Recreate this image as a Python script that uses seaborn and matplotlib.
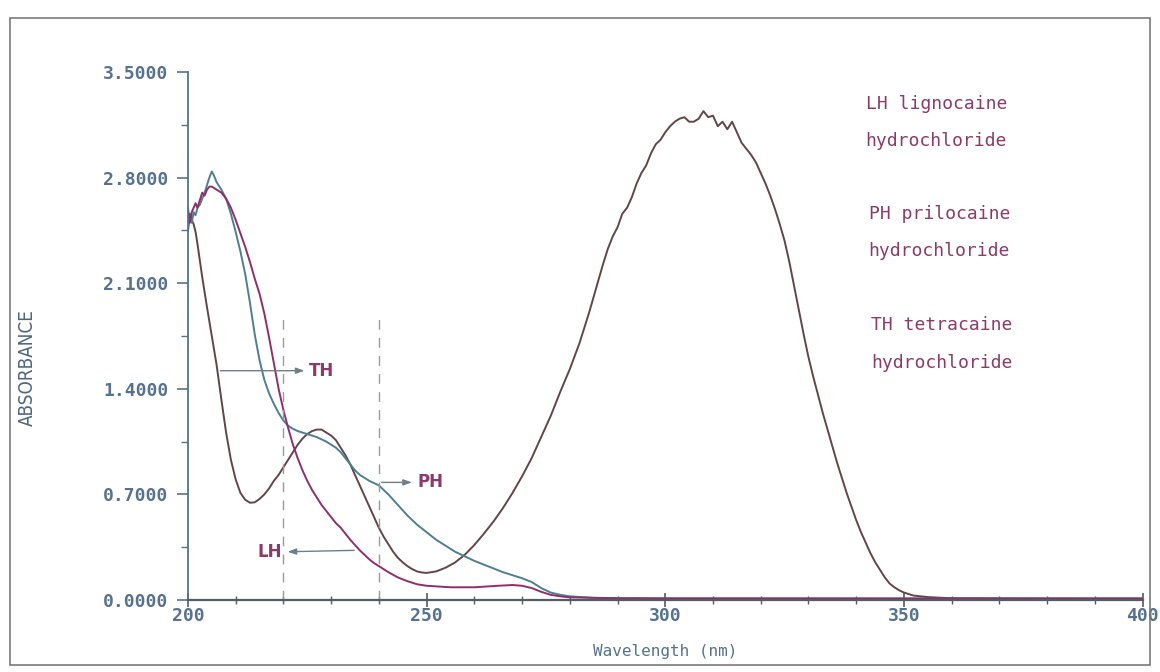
import matplotlib
matplotlib.use("Agg")
import matplotlib.pyplot as plt
from matplotlib.patches import Rectangle
from matplotlib.ticker import MultipleLocator, FixedLocator
import pandas as pd
import seaborn as sns

# TH tetracaine hydrochloride (brown trace)
th_wl = [200, 200.4, 200.8, 201.2, 201.6, 202, 203, 204, 205, 206,
         207, 208, 209, 210, 211, 212, 213, 214, 215, 216,
         217, 218, 219, 220, 221, 222, 223, 224, 225, 226,
         227, 228, 229, 230, 231, 232, 233, 234, 235, 236,
         237, 238, 239, 240, 241, 242, 243, 244, 245, 246,
         247, 248, 249, 250, 252, 254, 256, 258, 260, 262,
         264, 266, 268, 270, 272, 274, 276, 278, 280, 282,
         284, 285, 286, 287, 288, 289, 290, 291, 292, 293,
         294, 295, 296, 297, 298, 299, 300, 301, 302, 303,
         304, 305, 306, 307, 308, 309, 310, 311, 312, 313,
         314, 315, 316, 317, 318, 319, 320, 321, 322, 323,
         324, 325, 326, 327, 328, 329, 330, 331, 332, 333,
         334, 335, 336, 337, 338, 339, 340, 341, 342, 343,
         344, 345, 346, 347, 348, 349, 350, 352, 355, 360,
         380, 400]
th_abs = [2.47, 2.56, 2.52, 2.49, 2.44, 2.36, 2.14, 1.94, 1.75, 1.56,
          1.33, 1.11, 0.93, 0.80, 0.71, 0.665, 0.645, 0.648, 0.67, 0.70,
          0.74, 0.79, 0.83, 0.88, 0.93, 0.98, 1.03, 1.07, 1.10, 1.12,
          1.13, 1.13, 1.11, 1.09, 1.06, 1.01, 0.96, 0.90, 0.83, 0.76,
          0.69, 0.62, 0.55, 0.48, 0.42, 0.37, 0.32, 0.28, 0.25, 0.225,
          0.205, 0.19, 0.183, 0.18, 0.19, 0.215, 0.25, 0.30, 0.365, 0.44,
          0.52, 0.61, 0.71, 0.82, 0.94, 1.08, 1.22, 1.38, 1.53, 1.70,
          1.90, 2.01, 2.12, 2.23, 2.33, 2.41, 2.47, 2.56, 2.60, 2.67,
          2.76, 2.83, 2.88, 2.96, 3.02, 3.05, 3.10, 3.14, 3.17, 3.19,
          3.20, 3.17, 3.17, 3.19, 3.24, 3.20, 3.21, 3.14, 3.17, 3.12,
          3.17, 3.10, 3.03, 2.99, 2.95, 2.90, 2.83, 2.76, 2.68, 2.59,
          2.49, 2.38, 2.24, 2.08, 1.92, 1.76, 1.61, 1.48, 1.36, 1.24,
          1.13, 1.02, 0.91, 0.81, 0.71, 0.62, 0.53, 0.45, 0.38, 0.31,
          0.25, 0.20, 0.15, 0.11, 0.085, 0.065, 0.05, 0.03, 0.02, 0.012,
          0.01, 0.01]

# PH prilocaine hydrochloride (blue trace)
ph_wl = [200, 200.4, 200.8, 201.2, 201.6, 202, 202.5, 203, 203.5, 204,
         204.5, 205, 205.5, 206, 207, 208, 209, 210, 211, 212,
         213, 214, 215, 216, 217, 218, 219, 220, 221, 222,
         223, 224, 225, 226, 227, 228, 229, 230, 231, 232,
         233, 234, 235, 236, 237, 238, 239, 240, 242, 244,
         246, 248, 250, 252, 254, 256, 258, 260, 262, 264,
         266, 268, 270, 272, 274, 276, 278, 280, 285, 300,
         400]
ph_abs = [2.44, 2.55, 2.50, 2.57, 2.55, 2.60, 2.62, 2.66, 2.70, 2.75,
          2.80, 2.84, 2.81, 2.77, 2.72, 2.66, 2.56, 2.44, 2.31, 2.16,
          1.97, 1.76, 1.59, 1.46, 1.37, 1.30, 1.24, 1.19, 1.155, 1.135,
          1.12, 1.11, 1.10, 1.09, 1.08, 1.065, 1.05, 1.03, 1.01, 0.98,
          0.94, 0.90, 0.86, 0.83, 0.81, 0.79, 0.775, 0.76, 0.70, 0.63,
          0.56, 0.50, 0.45, 0.40, 0.36, 0.32, 0.29, 0.26, 0.235, 0.21,
          0.185, 0.165, 0.145, 0.12, 0.08, 0.05, 0.035, 0.025, 0.015, 0.01,
          0.01]

# LH lignocaine hydrochloride (purple trace)
lh_wl = [200, 200.4, 200.8, 201.2, 201.6, 202, 202.5, 203, 203.5, 204,
         204.5, 205, 206, 207, 208, 209, 210, 211, 212, 213,
         214, 215, 216, 217, 218, 219, 220, 221, 222, 223,
         224, 225, 226, 227, 228, 229, 230, 231, 232, 233,
         234, 235, 236, 237, 238, 239, 240, 242, 244, 246,
         248, 250, 255, 260, 265, 268, 270, 272, 274, 276,
         278, 280, 290, 400]
lh_abs = [2.60, 2.50, 2.57, 2.60, 2.63, 2.60, 2.65, 2.70, 2.68, 2.72,
          2.74, 2.74, 2.72, 2.70, 2.66, 2.60, 2.52, 2.43, 2.34, 2.24,
          2.13, 2.03, 1.90, 1.74, 1.57, 1.40, 1.26, 1.14, 1.03, 0.94,
          0.86, 0.79, 0.73, 0.68, 0.63, 0.59, 0.55, 0.51, 0.48, 0.44,
          0.40, 0.365, 0.33, 0.30, 0.27, 0.245, 0.225, 0.185, 0.15, 0.125,
          0.105, 0.095, 0.085, 0.085, 0.095, 0.10, 0.095, 0.08, 0.055, 0.035,
          0.025, 0.018, 0.012, 0.01]

drugs = ["TH", "PH", "LH"]
colors = {"TH": "#634549", "PH": "#4e7f90", "LH": "#8e2f6c"}
legend_lines = ["LH lignocaine", "hydrochloride",
                "PH prilocaine", "hydrochloride",
                "TH tetracaine", "hydrochloride"]
y_ticks = [0.0, 0.7, 1.4, 2.1, 2.8, 3.5]
x_ticks = [200, 250, 300, 350, 400]
marker_wl = [220, 240]

TEXT_C = "#8c3a68"
TICK_C = "#56728f"
MONO = ["DejaVu Sans Mono"]

df = pd.concat([
    pd.DataFrame({"wl": th_wl, "abs": th_abs, "drug": "TH"}),
    pd.DataFrame({"wl": ph_wl, "abs": ph_abs, "drug": "PH"}),
    pd.DataFrame({"wl": lh_wl, "abs": lh_abs, "drug": "LH"}),
], ignore_index=True)

sns.set_style("ticks")
plt.rcParams["font.family"] = MONO

fig = plt.figure(figsize=(11.6, 6.72), dpi=100)
ax = fig.add_axes([0.162, 0.107, 0.823, 0.786])

sns.lineplot(data=df, x="wl", y="abs", hue="drug", hue_order=drugs, palette=colors,
             estimator=None, sort=False, legend=False, linewidth=1.4, ax=ax)

# dashed markers
for w in marker_wl:
    ax.plot([w, w], [0, 1.88], color="#9a9a9a", lw=1.0, ls=(0, (7, 6)))

# arrows to trace labels
arrow_kw = dict(arrowstyle="-|>,head_length=0.5,head_width=0.18", color="#6f7f88", lw=1.0)
ax.annotate("", xy=(225.0, 1.52), xytext=(206.2, 1.52), arrowprops=arrow_kw)
ax.text(225.3, 1.52, "TH", color=TEXT_C, fontsize=12, fontweight="bold",
        family=["DejaVu Sans"], va="center", ha="left")
ax.annotate("", xy=(247.5, 0.78), xytext=(240.0, 0.78), arrowprops=arrow_kw)
ax.text(248.0, 0.78, "PH", color=TEXT_C, fontsize=12, fontweight="bold",
        family=["DejaVu Sans"], va="center", ha="left")
ax.annotate("", xy=(220.3, 0.32), xytext=(235.4, 0.33), arrowprops=arrow_kw)
ax.text(219.8, 0.32, "LH", color=TEXT_C, fontsize=12, fontweight="bold",
        family=["DejaVu Sans"], va="center", ha="right")

# side notes
note_y = [3.29, 3.04, 2.56, 2.31, 1.82, 1.57]
note_x = [342.0, 342.0, 342.6, 342.6, 343.2, 343.2]
for tx, xx, yy in zip(legend_lines, note_x, note_y):
    ax.text(xx, yy, tx, color=TEXT_C, fontsize=13, va="center", ha="left")

# axes styling
ax.set_xlim(200, 400)
ax.set_ylim(0, 3.5)
sns.despine(ax=ax)
ax.spines["left"].set_color(TICK_C)
ax.spines["bottom"].set_color("#555b60")
ax.spines["left"].set_linewidth(1.3)
ax.spines["bottom"].set_linewidth(1.6)

ax.yaxis.set_major_locator(FixedLocator(y_ticks))
ax.set_yticklabels([f"{v:.4f}" for v in y_ticks])
ax.yaxis.set_minor_locator(MultipleLocator(0.35))
ax.xaxis.set_major_locator(FixedLocator(x_ticks))
ax.set_xticklabels([str(v) for v in x_ticks])
ax.xaxis.set_minor_locator(MultipleLocator(10))

ax.tick_params(axis="y", which="major", direction="out", length=8, width=1.2,
               color=TICK_C, labelcolor=TICK_C, labelsize=13, pad=6)
ax.tick_params(axis="y", which="minor", direction="out", length=5, width=1.0, color=TICK_C)
ax.tick_params(axis="x", which="major", direction="inout", length=10, width=1.2,
               color="#555b60", labelcolor=TICK_C, labelsize=13, pad=0)
ax.tick_params(axis="x", which="minor", direction="inout", length=6, width=1.0, color="#555b60")
for lab in ax.get_xticklabels() + ax.get_yticklabels():
    lab.set_fontweight("bold")

ax.set_xlabel("Wavelength (nm)", color=TICK_C, fontsize=11.5, labelpad=14)
ax.set_ylabel("ABSORBANCE", color="#4d6680", fontsize=13.5,
              family=["Liberation Sans Narrow", "DejaVu Sans"], fontstretch="condensed")
ax.yaxis.set_label_coords(-0.158, 0.44)

# outer frame
fig.add_artist(Rectangle((0.009, 0.011), 0.982, 0.962, transform=fig.transFigure,
                         fill=False, edgecolor="#7a7a7a", lw=1.2))

fig.savefig("out.png", dpi=100)
